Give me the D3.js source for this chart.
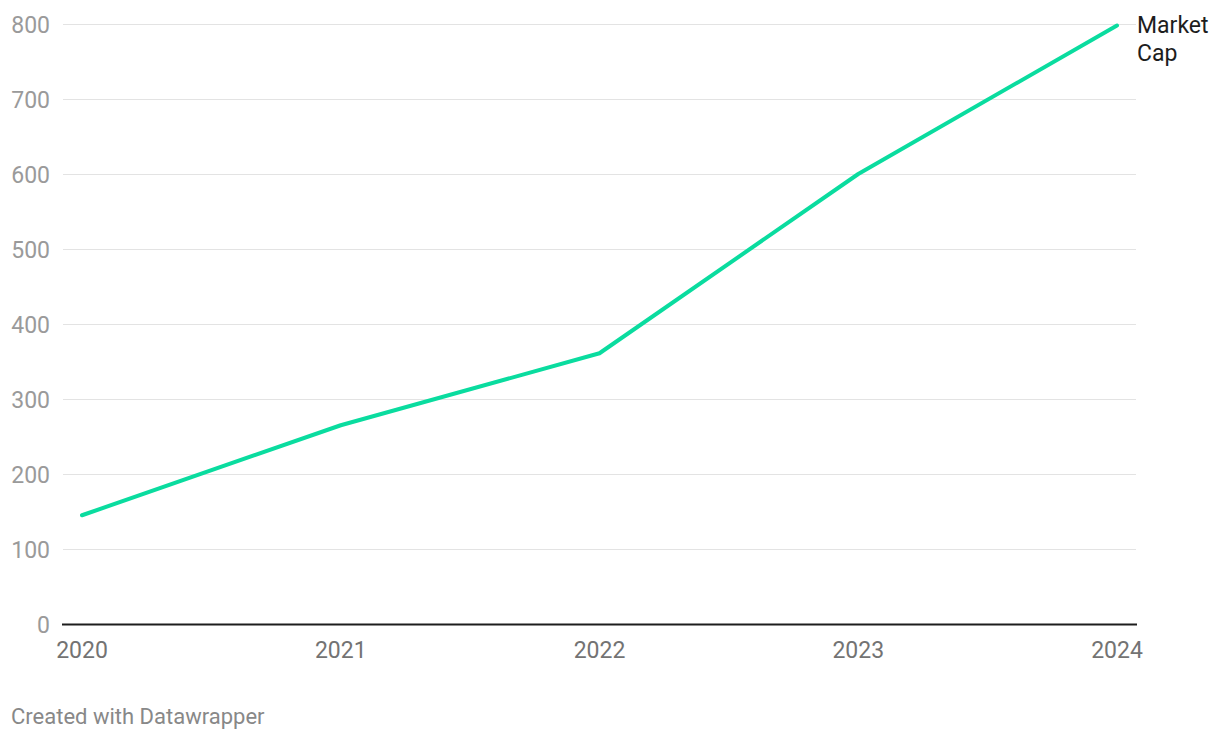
<!DOCTYPE html>
<html>
<head>
<meta charset="utf-8">
<script src="https://cdn.jsdelivr.net/npm/d3@7"></script>
<style>
    body { margin: 0; background: #fff; font-family: Roboto, "Noto Sans", sans-serif; }
    .grid line { stroke: #e3e3e3; stroke-width: 1; }
    .ylab { fill: #9a9a9a; font-size: 23px; }
    .xlab { fill: #737373; font-size: 23px; }
</style>
</head>
<body>
<script>
// chart data
var years = [2020, 2021, 2022, 2023, 2024];
var marketCap = [145, 265, 361, 600, 798];
var yTicks = [0, 100, 200, 300, 400, 500, 600, 700, 800];
var seriesName = ["Market", "Cap"];

drawChart();

function drawChart(){
    var width = 1220,
        height = 740;

    var svg = d3.select("body")
        .append("svg")
        .attr("width", width)
        .attr("height", height);

    // scales
    var x = d3.scaleLinear()
        .domain([2020, 2024])
        .range([82, 1117]);

    var y = d3.scaleLinear()
        .domain([0, 800])
        .range([624, 24]);

    // gridlines
    var grid = svg.append("g").attr("class", "grid");
    grid.selectAll("line")
        .data(yTicks.filter(function(d){ return d > 0; }))
        .enter()
        .append("line")
        .attr("x1", 63)
        .attr("x2", 1136)
        .attr("y1", function(d){ return y(d) + 0.5; })
        .attr("y2", function(d){ return y(d) + 0.5; });

    // y labels
    svg.selectAll(".ylab")
        .data(yTicks)
        .enter()
        .append("text")
        .attr("class", "ylab")
        .attr("x", 50)
        .attr("y", function(d){ return y(d) + 9; })
        .attr("text-anchor", "end")
        .text(function(d){ return d; });

    // baseline
    svg.append("line")
        .attr("x1", 62)
        .attr("x2", 1137)
        .attr("y1", y(0) + 0.5)
        .attr("y2", y(0) + 0.5)
        .attr("stroke", "#1d1d1d")
        .attr("stroke-width", 2);

    // x labels
    svg.selectAll(".xlab")
        .data(years)
        .enter()
        .append("text")
        .attr("class", "xlab")
        .attr("x", function(d){ return x(d); })
        .attr("y", 658)
        .attr("text-anchor", "middle")
        .text(function(d){ return d; });

    // line
    var line = d3.line()
        .x(function(d, i){ return x(years[i]); })
        .y(function(d){ return y(d); });

    svg.append("path")
        .datum(marketCap)
        .attr("d", line)
        .attr("fill", "none")
        .attr("stroke", "#0adc9f")
        .attr("stroke-width", 4)
        .attr("stroke-linecap", "round")
        .attr("stroke-linejoin", "round");

    // series label
    svg.append("text")
        .attr("x", 1137)
        .attr("y", 33)
        .attr("fill", "#1d1d1d")
        .attr("font-size", 23)
        .selectAll("tspan")
        .data(seriesName)
        .enter()
        .append("tspan")
        .attr("x", 1137)
        .attr("dy", function(d, i){ return i === 0 ? 0 : 28; })
        .text(function(d){ return d; });

    // footer
    svg.append("text")
        .attr("x", 11)
        .attr("y", 724)
        .attr("fill", "#888")
        .attr("font-size", 22)
        .text("Created with Datawrapper");
}
</script>
</body>
</html>
